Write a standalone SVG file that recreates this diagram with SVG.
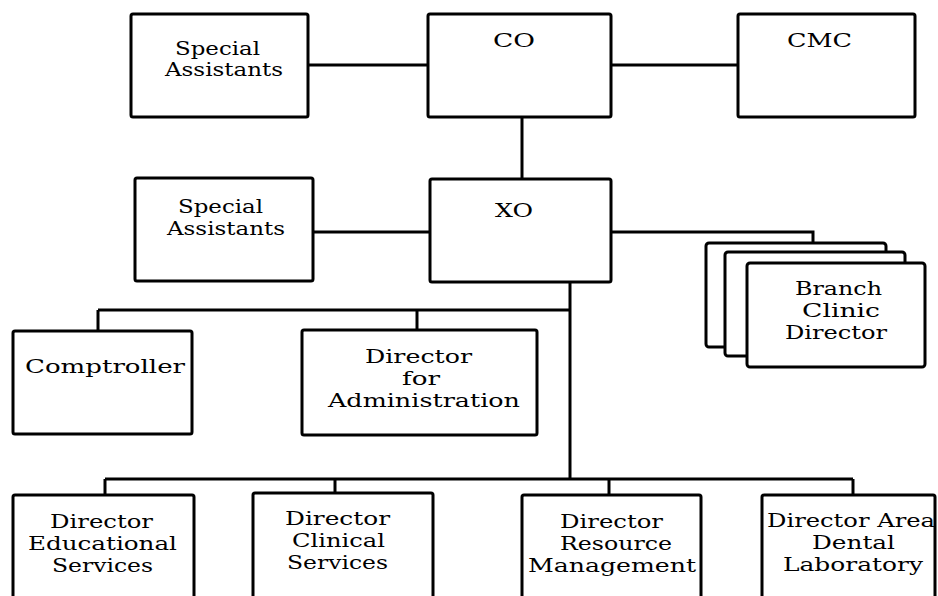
<svg xmlns="http://www.w3.org/2000/svg" width="938" height="596" viewBox="0 0 938 596">
<style>
.box{fill:#fff;stroke:#000;stroke-width:3;}
.ln{fill:none;stroke:#000;stroke-width:3;}
text{font-family:"DejaVu Serif","Liberation Serif",serif;font-size:18px;fill:#000;}
</style>
<rect width="938" height="596" fill="#fff"/>
<g id="connectors">
<line class="ln" x1="308" y1="65" x2="428" y2="65"/>
<line class="ln" x1="611" y1="65" x2="738" y2="65"/>
<line class="ln" x1="522" y1="117" x2="522" y2="179"/>
<line class="ln" x1="313" y1="232" x2="430" y2="232"/>
<polyline class="ln" points="611,232 813,232 813,243"/>
<line class="ln" x1="570" y1="282" x2="570" y2="479"/>
<line class="ln" x1="98" y1="310" x2="570" y2="310"/>
<line class="ln" x1="98" y1="310" x2="98" y2="331"/>
<line class="ln" x1="417" y1="310" x2="417" y2="330"/>
<line class="ln" x1="105" y1="479" x2="853" y2="479"/>
<line class="ln" x1="105" y1="479" x2="105" y2="495"/>
<line class="ln" x1="335" y1="479" x2="335" y2="493"/>
<line class="ln" x1="609" y1="479" x2="609" y2="495"/>
<line class="ln" x1="853" y1="479" x2="853" y2="495"/>
</g>
<g id="sa1">
<rect class="box" x="131" y="14" width="177" height="103" rx="2"/>
<text x="175" y="55" textLength="85" lengthAdjust="spacingAndGlyphs">Special</text>
<text x="165" y="76" textLength="118" lengthAdjust="spacingAndGlyphs">Assistants</text>
</g>
<g id="co">
<rect class="box" x="428" y="14" width="183" height="103" rx="2"/>
<text x="493" y="47" textLength="42" lengthAdjust="spacingAndGlyphs">CO</text>
</g>
<g id="cmc">
<rect class="box" x="738" y="14" width="177" height="103" rx="2"/>
<text x="787" y="47" textLength="65" lengthAdjust="spacingAndGlyphs">CMC</text>
</g>
<g id="sa2">
<rect class="box" x="135" y="178" width="178" height="103" rx="2"/>
<text x="178" y="213" textLength="85" lengthAdjust="spacingAndGlyphs">Special</text>
<text x="167" y="235" textLength="118" lengthAdjust="spacingAndGlyphs">Assistants</text>
</g>
<g id="xo">
<rect class="box" x="430" y="179" width="181" height="103" rx="2"/>
<text x="495" y="217" textLength="38" lengthAdjust="spacingAndGlyphs">XO</text>
</g>
<g id="branch">
<rect class="box" x="706" y="243" width="180" height="104" rx="3"/>
<rect class="box" x="725" y="252" width="180" height="104" rx="3"/>
<rect class="box" x="747" y="263" width="178" height="104" rx="3"/>
<text x="795" y="295" textLength="87" lengthAdjust="spacingAndGlyphs">Branch</text>
<text x="802" y="317" textLength="78" lengthAdjust="spacingAndGlyphs">Clinic</text>
<text x="785" y="339" textLength="102" lengthAdjust="spacingAndGlyphs">Director</text>
</g>
<g id="comptroller">
<rect class="box" x="13" y="331" width="179" height="103" rx="2"/>
<text x="25" y="373" textLength="160" lengthAdjust="spacingAndGlyphs">Comptroller</text>
</g>
<g id="dfa">
<rect class="box" x="302" y="330" width="235" height="105" rx="2"/>
<text x="365" y="363" textLength="107" lengthAdjust="spacingAndGlyphs">Director</text>
<text x="402" y="385" textLength="38" lengthAdjust="spacingAndGlyphs">for</text>
<text x="328" y="407" textLength="192" lengthAdjust="spacingAndGlyphs">Administration</text>
</g>
<g id="des">
<rect class="box" x="13" y="495" width="181" height="115" rx="2"/>
<text x="50" y="528" textLength="103" lengthAdjust="spacingAndGlyphs">Director</text>
<text x="28" y="550" textLength="149" lengthAdjust="spacingAndGlyphs">Educational</text>
<text x="52" y="572" textLength="101" lengthAdjust="spacingAndGlyphs">Services</text>
</g>
<g id="dcs">
<rect class="box" x="253" y="493" width="180" height="117" rx="2"/>
<text x="285" y="525" textLength="105" lengthAdjust="spacingAndGlyphs">Director</text>
<text x="292" y="547" textLength="93" lengthAdjust="spacingAndGlyphs">Clinical</text>
<text x="287" y="569" textLength="101" lengthAdjust="spacingAndGlyphs">Services</text>
</g>
<g id="drm">
<rect class="box" x="522" y="495" width="179" height="115" rx="2"/>
<text x="560" y="528" textLength="103" lengthAdjust="spacingAndGlyphs">Director</text>
<text x="560" y="550" textLength="112" lengthAdjust="spacingAndGlyphs">Resource</text>
<text x="528" y="572" textLength="168" lengthAdjust="spacingAndGlyphs">Management</text>
</g>
<g id="dadl">
<rect class="box" x="762" y="495" width="173" height="115" rx="2"/>
<text x="767" y="527" textLength="168" lengthAdjust="spacingAndGlyphs">Director Area</text>
<text x="812" y="549" textLength="83" lengthAdjust="spacingAndGlyphs">Dental</text>
<text x="783" y="571" textLength="140" lengthAdjust="spacingAndGlyphs">Laboratory</text>
</g>
</svg>
